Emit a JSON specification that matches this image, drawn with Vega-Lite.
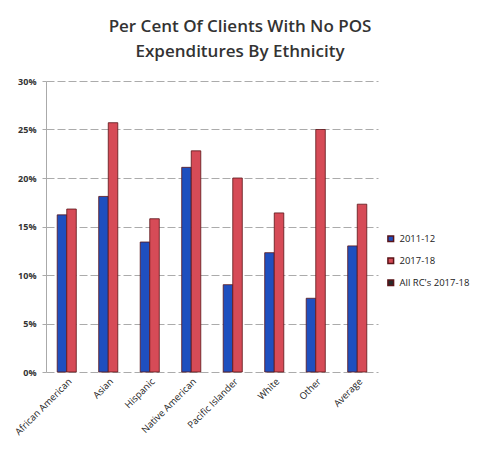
{
  "$schema": "https://vega.github.io/schema/vega-lite/v6.json",
  "width": 332,
  "height": 291,
  "autosize": {"type": "none"},
  "padding": {"left": 46, "top": 81, "right": 104, "bottom": 78},
  "background": "white",
  "title": {
    "text": ["Per Cent Of Clients With No POS", "Expenditures By Ethnicity"],
    "font": "Open Sans",
    "fontSize": 17,
    "fontWeight": 600,
    "color": "#333333",
    "lineHeight": 25,
    "anchor": "middle",
    "dx": 28,
    "offset": 16
  },
  "data": {
    "values": [
      {"ethnicity": "African American", "series": "2011-12", "value": 16.2},
      {"ethnicity": "African American", "series": "2017-18", "value": 16.8},
      {"ethnicity": "Asian", "series": "2011-12", "value": 18.1},
      {"ethnicity": "Asian", "series": "2017-18", "value": 25.7},
      {"ethnicity": "Hispanic", "series": "2011-12", "value": 13.4},
      {"ethnicity": "Hispanic", "series": "2017-18", "value": 15.8},
      {"ethnicity": "Native American", "series": "2011-12", "value": 21.1},
      {"ethnicity": "Native American", "series": "2017-18", "value": 22.8},
      {"ethnicity": "Pacific Islander", "series": "2011-12", "value": 9.0},
      {"ethnicity": "Pacific Islander", "series": "2017-18", "value": 20.0},
      {"ethnicity": "White", "series": "2011-12", "value": 12.3},
      {"ethnicity": "White", "series": "2017-18", "value": 16.4},
      {"ethnicity": "Other", "series": "2011-12", "value": 7.6},
      {"ethnicity": "Other", "series": "2017-18", "value": 25.0},
      {"ethnicity": "Average", "series": "2011-12", "value": 13.0},
      {"ethnicity": "Average", "series": "2017-18", "value": 17.3}
    ]
  },
  "mark": {"type": "bar", "stroke": "#5a1418", "strokeWidth": 0.8},
  "encoding": {
    "x": {
      "field": "ethnicity",
      "type": "nominal",
      "sort": null,
      "scale": {"paddingInner": 0.54, "paddingOuter": 0.27},
      "axis": {
        "title": null,
        "labelAngle": -45,
        "labelFont": "Open Sans",
        "labelFontSize": 9.5,
        "labelColor": "#222222",
        "domain": false,
        "ticks": false,
        "labelPadding": 4
      }
    },
    "xOffset": {"field": "series", "type": "nominal", "sort": ["2011-12", "2017-18"]},
    "y": {
      "field": "value",
      "type": "quantitative",
      "scale": {"domain": [0, 30]},
      "axis": {
        "title": null,
        "values": [0, 5, 10, 15, 20, 25, 30],
        "labelExpr": "datum.value + '%'",
        "labelFont": "Open Sans",
        "labelFontSize": 9,
        "labelFontWeight": "bold",
        "labelColor": "#333333",
        "labelPadding": 6,
        "domainColor": "#aaaaaa",
        "tickColor": "#aaaaaa",
        "tickSize": 4,
        "gridColor": "#ababab",
        "gridDash": [8, 3],
        "gridWidth": 1
      }
    },
    "color": {
      "field": "series",
      "type": "nominal",
      "scale": {
        "domain": ["2011-12", "2017-18", "All RC's 2017-18"],
        "range": ["#1f4fbf", "#d64b57", "#2a2a2a"]
      },
      "legend": {
        "title": null,
        "orient": "none",
        "legendX": 340,
        "legendY": 153,
        "symbolType": "square",
        "symbolSize": 32,
        "labelFont": "Open Sans",
        "labelFontSize": 9.5,
        "labelColor": "#222222",
        "rowPadding": 9
      }
    }
  },
  "config": {"view": {"stroke": null}}
}
